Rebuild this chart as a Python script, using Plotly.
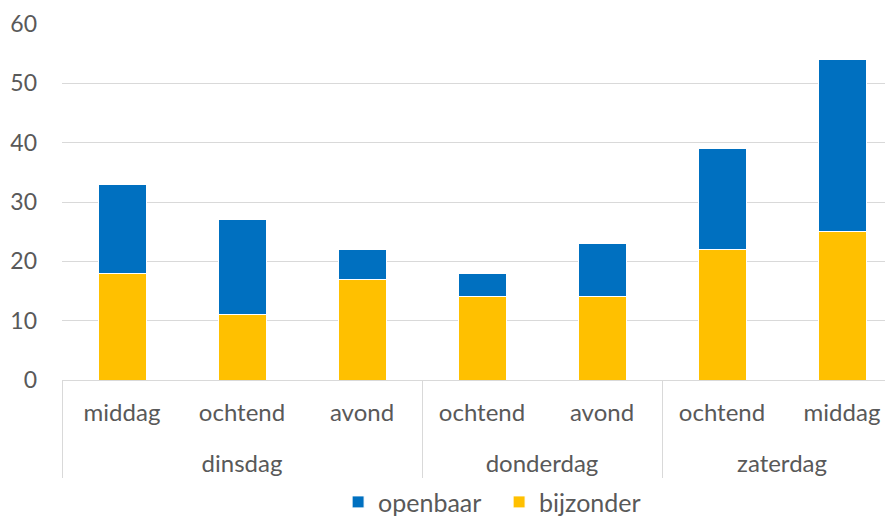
import plotly.graph_objects as go

ZW = "\u200b"  # keeps zaterdag's second 'middag' as its own category so order is preserved
days = ["<br>dinsdag", "<br>dinsdag", "<br>dinsdag", "<br>donderdag", "<br>donderdag",
        "<br>zaterdag", "<br>zaterdag"]
parts = ["middag", "ochtend", "avond", "ochtend", "avond", "ochtend", "middag" + ZW]
bijzonder = [18, 11, 17, 14, 14, 22, 25]
openbaar = [15, 16, 5, 4, 9, 17, 29]
y_ticks = [0, 10, 20, 30, 40, 50, 60]

FONT = "Lato, Open Sans, sans-serif"
GREY = "#595959"
GRID = "#D9D9D9"

fig = go.Figure()
fig.add_trace(go.Bar(x=[days, parts], y=bijzonder, name="bijzonder",
                     marker=dict(color="#FFC000", line=dict(color="white", width=1))))
fig.add_trace(go.Bar(x=[days, parts], y=openbaar, name="openbaar",
                     marker=dict(color="#0070C0", line=dict(color="white", width=1))))

fig.update_layout(
    width=885, height=511,
    barmode="stack", bargap=0.6,
    plot_bgcolor="white", paper_bgcolor="white",
    margin=dict(l=54, r=0, t=16, b=139, autoexpand=False),
    font=dict(family=FONT, size=23, color=GREY),
    showlegend=True,
    legend=dict(orientation="h", traceorder="reversed", xref="container", x=0.373,
                xanchor="left", yref="container", y=0.078, yanchor="top",
                entrywidth=116, entrywidthmode="pixels",
                font=dict(size=25, color=GREY)),
    xaxis=dict(type="multicategory", range=[-0.5, 6.425], showline=True,
               linecolor=GRID, linewidth=1, showdividers=True, dividercolor=GRID,
               dividerwidth=1, tickfont=dict(size=24, color=GREY), showgrid=False,
               ticklabelstandoff=11, automargin=False),
    yaxis=dict(range=[0, 60], tickvals=y_ticks, showgrid=True, gridcolor=GRID,
               gridwidth=1, zeroline=False, tickfont=dict(size=23, color=GREY),
               ticklabelstandoff=24, automargin=False),
)

fig.write_html("out.html")
